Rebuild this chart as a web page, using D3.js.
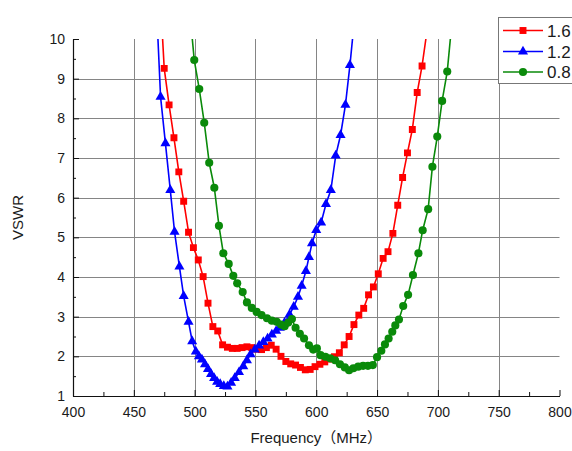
<!DOCTYPE html>
<html>
<head>
<meta charset="utf-8">
<script src="https://cdn.jsdelivr.net/npm/d3@7"></script>
<style>
  body { margin: 0; background: #fff; }
  svg { display: block; }
  text { font-family: "Liberation Sans", Arial, "Noto Sans CJK JP", sans-serif; }
</style>
</head>
<body>
<svg id="chart" width="572" height="451"></svg>
<script>
// VSWR versus frequency for three parameter values (1.6, 1.2, 0.8)

const seriesNames = ["1.6", "1.2", "0.8"];
const seriesColors = ["#ff0000", "#0000ff", "#0a8a0a"];

// 1.6 — measured points (MHz, VSWR)
const freq16 = [471, 475, 479, 483, 487, 491, 495, 499, 503, 507, 511, 515, 519, 523, 527, 531,
  535, 539, 543, 547, 551, 555, 559, 563, 567, 571, 575, 579, 583, 587, 591, 595, 599, 603,
  607, 611, 615, 619, 623, 627, 631, 635, 639, 643, 647, 651, 655, 659, 663, 667, 671, 675,
  679, 683, 687, 691.5];
const vswr16 = [11.5, 9.26, 8.34, 7.51, 6.65, 5.91, 5.13, 4.74, 4.43, 4.01, 3.34, 2.75, 2.64,
  2.29, 2.23, 2.20, 2.20, 2.22, 2.24, 2.22, 2.18, 2.17, 2.22, 2.28, 2.18, 2.00, 1.87, 1.81,
  1.78, 1.72, 1.66, 1.67, 1.74, 1.80, 1.86, 1.93, 1.99, 2.09, 2.29, 2.50, 2.80, 3.04, 3.21,
  3.55, 3.75, 4.08, 4.47, 4.64, 5.10, 5.81, 6.51, 7.13, 7.72, 8.65, 9.32, 10.3];

// 1.2 — measured points (MHz, VSWR)
const freq12 = [468, 472, 476, 480, 483.5, 487.5, 491, 495, 498, 501, 503.5, 506, 508.5, 511,
  513.5, 516, 518.5, 521, 524, 527, 530, 533, 536.5, 540, 543, 546, 549.5, 553, 556.5, 560,
  563.5, 567, 570, 574, 578, 581.5, 585, 588, 591.5, 594, 596.5, 600, 604, 608, 612, 616,
  620, 624, 627.7, 631];
const vswr12 = [11.25, 8.54, 7.37, 6.19, 5.14, 4.26, 3.52, 2.87, 2.38, 2.12, 2.00, 1.92, 1.80,
  1.68, 1.55, 1.45, 1.36, 1.30, 1.25, 1.24, 1.33, 1.45, 1.60, 1.75, 1.90, 2.05, 2.17, 2.27,
  2.36, 2.45, 2.55, 2.64, 2.72, 2.85, 3.05, 3.25, 3.50, 3.78, 4.15, 4.50, 4.85, 5.18, 5.37,
  5.84, 6.19, 7.06, 7.58, 8.34, 9.34, 10.37];

// 0.8 — measured points (MHz, VSWR)
const freq08 = [495.5, 499.7, 503.8, 507.9, 512, 516.2, 520, 523.6, 528, 531.8, 535, 539.5, 543,
  547, 551, 555, 559.5, 563.5, 567.5, 571, 574, 577, 580, 583, 586.5, 590, 594, 597.5, 600.5,
  603.5, 607.5, 611.5, 615.5, 619.5, 623.5, 627, 630.5, 634.5, 638.5, 642.5, 646.5, 650,
  653.5, 656.5, 659.5, 662.5, 665, 668, 671.5, 675.5, 679.5, 684, 687.5, 692, 695.5, 699.5,
  703.5, 707.7, 711.5];
const vswr08 = [10.85, 9.47, 8.74, 7.89, 6.88, 6.25, 5.29, 4.60, 4.33, 4.03, 3.84, 3.62, 3.36,
  3.22, 3.12, 3.04, 2.96, 2.90, 2.87, 2.80, 2.76, 2.85, 2.94, 2.72, 2.57, 2.45, 2.28, 2.17,
  2.20, 2.03, 1.99, 1.95, 1.90, 1.80, 1.72, 1.65, 1.70, 1.74, 1.76, 1.76, 1.78, 1.98, 2.14,
  2.30, 2.45, 2.62, 2.78, 2.93, 3.27, 3.55, 4.05, 4.60, 5.18, 5.71, 6.78, 7.54, 8.44, 9.18,
  10.4];

// Axis ticks
const xTicks = [400, 450, 500, 550, 600, 650, 700, 750, 800];
const xMinorTicks = [425, 475, 525, 575, 625, 675, 725, 775];
const yTicks = [1, 2, 3, 4, 5, 6, 7, 8, 9, 10];
const yMinorTicks = [1.5, 2.5, 3.5, 4.5, 5.5, 6.5, 7.5, 8.5, 9.5];

const xTitle = "Frequency（MHz）";
const yTitle = "VSWR";

const series = [
  { name: seriesNames[0], color: seriesColors[0], shape: d3.symbolSquare, size: 48,
    points: freq16.map((f, i) => [f, vswr16[i]]) },
  { name: seriesNames[1], color: seriesColors[1], shape: d3.symbolTriangle, size: 44,
    points: freq12.map((f, i) => [f, vswr12[i]]) },
  { name: seriesNames[2], color: seriesColors[2], shape: d3.symbolCircle, size: 52,
    points: freq08.map((f, i) => [f, vswr08[i]]) }
];

const svg = d3.select("#chart");
const plot = { left: 73, right: 559.5, top: 39, bottom: 396 };

const x = d3.scaleLinear().domain([400, 800]).range([plot.left, plot.right]);
const y = d3.scaleLinear().domain([1, 10]).range([plot.bottom, plot.top]);

svg.append("defs").append("clipPath").attr("id", "plot-clip")
  .append("rect")
  .attr("x", plot.left).attr("y", plot.top)
  .attr("width", plot.right - plot.left + 2).attr("height", plot.bottom - plot.top);

// grid
const grid = svg.append("g").attr("stroke", "#858585").attr("stroke-width", 1);
grid.selectAll("line.v").data(xTicks.slice(1, -1)).join("line")
  .attr("x1", d => Math.round(x(d)) + 0.5).attr("x2", d => Math.round(x(d)) + 0.5)
  .attr("y1", plot.top).attr("y2", plot.bottom);
grid.selectAll("line.h").data(yTicks.slice(1, -1)).join("line")
  .attr("y1", d => Math.round(y(d)) + 0.5).attr("y2", d => Math.round(y(d)) + 0.5)
  .attr("x1", plot.left).attr("x2", plot.right);

// axes
const axisFont = g => g.selectAll("text")
  .attr("font-size", 14).attr("fill", "#1a1a1a")
  .attr("font-family", "'Liberation Sans', Arial, sans-serif");

svg.append("g").attr("transform", `translate(${plot.left},0)`)
  .call(d3.axisLeft(y).tickValues(yTicks).tickFormat(d3.format("d"))
    .tickSizeInner(-6).tickSizeOuter(0).tickPadding(8))
  .call(axisFont);
svg.append("g").attr("transform", `translate(${plot.left},0)`)
  .call(d3.axisLeft(y).tickValues(yMinorTicks).tickFormat("")
    .tickSizeInner(-3).tickSizeOuter(0))
  .call(g => g.select(".domain").remove());

svg.append("g").attr("transform", `translate(0,${plot.bottom})`)
  .call(d3.axisBottom(x).tickValues(xTicks).tickFormat(d3.format("d"))
    .tickSizeInner(-6).tickSizeOuter(0).tickPadding(11))
  .call(axisFont);
svg.append("g").attr("transform", `translate(0,${plot.bottom})`)
  .call(d3.axisBottom(x).tickValues(xMinorTicks).tickFormat("")
    .tickSizeInner(-4).tickSizeOuter(0))
  .call(g => g.select(".domain").remove());

svg.selectAll(".domain").attr("stroke", "#111").attr("stroke-width", 1.2);
svg.selectAll(".tick line").attr("stroke", "#111");

// axis titles
svg.append("text")
  .attr("transform", `translate(23,${(plot.top + plot.bottom) / 2}) rotate(-90)`)
  .attr("text-anchor", "middle")
  .attr("font-size", 15).attr("fill", "#1a1a1a")
  .text(yTitle);

svg.append("text")
  .attr("x", (plot.left + plot.right) / 2).attr("y", 443)
  .attr("text-anchor", "middle")
  .attr("font-size", 15).attr("fill", "#1a1a1a")
  .attr("font-family", "'Liberation Sans', 'Noto Sans CJK JP', sans-serif")
  .text(xTitle);

// series lines and markers
const line = d3.line().x(d => x(d[0])).y(d => y(d[1]));
const data = svg.append("g").attr("clip-path", "url(#plot-clip)");

series.forEach(s => {
  const g = data.append("g");
  g.append("path").datum(s.points)
    .attr("d", line).attr("fill", "none")
    .attr("stroke", s.color).attr("stroke-width", 1.6);
  g.selectAll("path.m").data(s.points).join("path")
    .attr("class", "m")
    .attr("transform", d => `translate(${x(d[0])},${y(d[1])})`)
    .attr("d", d3.symbol().type(s.shape).size(s.size))
    .attr("fill", s.color);
});

// legend
const legend = svg.append("g");
legend.append("rect")
  .attr("x", 498.5).attr("y", 17.5).attr("width", 80).attr("height", 66)
  .attr("fill", "#fff").attr("stroke", "#777").attr("stroke-width", 1);
const rowY = [30.5, 51.5, 72];
series.forEach((s, i) => {
  const row = legend.append("g").attr("transform", `translate(0,${rowY[i]})`);
  row.append("line").attr("x1", 503).attr("x2", 543).attr("y1", 0).attr("y2", 0)
    .attr("stroke", s.color).attr("stroke-width", 1.6);
  row.append("path").attr("transform", "translate(523,0)")
    .attr("d", d3.symbol().type(s.shape).size(s.size)).attr("fill", s.color);
  row.append("text").attr("x", 547).attr("y", 0).attr("dy", "0.36em")
    .attr("font-size", 17).attr("fill", "#1a1a1a").text(s.name);
});
</script>
</body>
</html>
